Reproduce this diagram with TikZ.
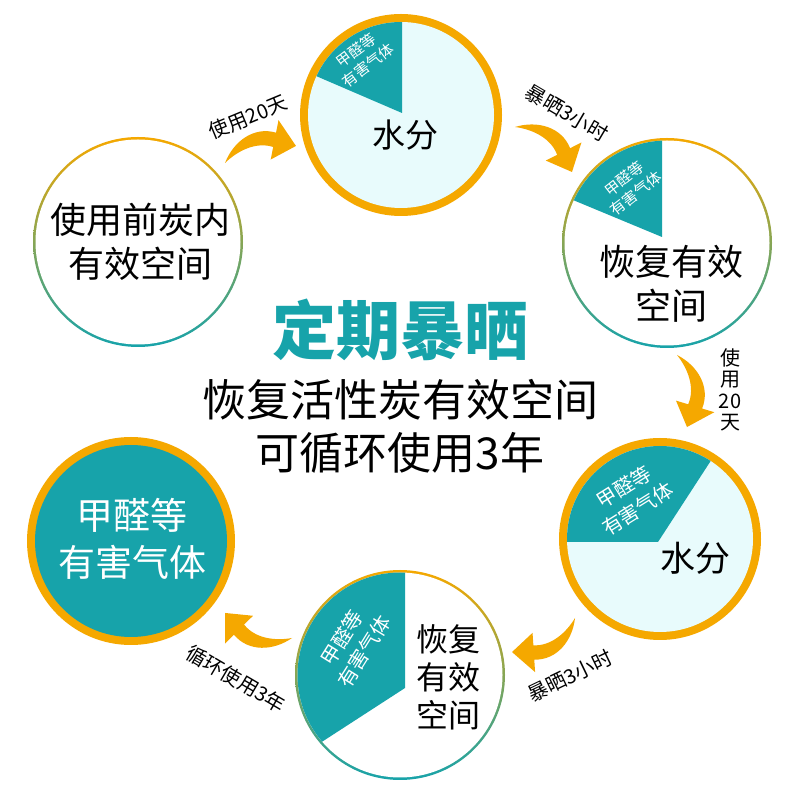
\documentclass[tikz,border=0pt]{standalone}
\usepackage{fontspec}
\newfontfamily\cjk{Noto Sans CJK SC}
\definecolor{ora}{HTML}{F5A800}
\definecolor{tealc}{HTML}{17A3AA}
\definecolor{lcyan}{HTML}{E8FBFC}
\tikzset{
  every node/.style={inner sep=0pt, outer sep=0pt, align=center},
  bigtxt/.style={font={\cjk\fontsize{36}{44}\selectfont}},
  midtxt/.style={font={\cjk\fontsize{32}{38}\selectfont}},
  wedgesm/.style={text=white, font={\cjk\fontsize{15}{18.5}\selectfont}},
  wedgebg/.style={text=white, font={\cjk\fontsize{20}{26}\selectfont}},
  lbl/.style={font={\cjk\fontsize{20}{21.5}\selectfont}},
}
\newcommand\bentarrow[3]{%
  \fill[ora, shift={(#1)}, rotate=#2, scale=#3]
    (0,0) .. controls (0.18,0.26) and (0.5,0.40) .. (0.777,0.241)
    -- (0.85,0.40) -- (1,0) -- (0.62,-0.10) -- (0.693,0.059)
    .. controls (0.48,0.19) and (0.2,0.12) .. cycle;}
\begin{document}
\begin{tikzpicture}[x=1pt,y=1pt]
\useasboundingbox (0,0) rectangle (800,800);
\fill[white] (0,0) rectangle (800,800);

% circle 6: before use
\coordinate (c6) at (138,558);
\shade[top color=ora, bottom color=tealc] (c6) circle (105);
\fill[white] (c6) circle (102.5);
\node[bigtxt] (t6) at (140,558) {使用前炭内\\有效空间};

% circle 1: top (water)
\coordinate (c1) at (401,685);
\fill[ora] (c1) circle (101);
\fill[lcyan] (c1) circle (93);
\begin{scope}
  \clip (c1) circle (93);
  \fill[tealc] (402,687) -- (402,800) -- (273,800) -- (273,742.5) -- cycle;
\end{scope}
\node[wedgesm, rotate=37] (w1) at (362,742) {甲醛等\\有害气体};
\node[font={\cjk\fontsize{33}{40}\selectfont}] (t1) at (405,665) {水分};

% circle 2: right (restored)
\coordinate (c2) at (667,557);
\shade[top color=ora, bottom color=tealc] (c2) circle (105);
\fill[white] (c2) circle (102.5);
\begin{scope}
  \clip (c2) circle (102.5);
  \fill[tealc] (662,563) -- (662,700) -- (520,700) -- (520,622) -- cycle;
\end{scope}
\node[wedgesm, rotate=38] (w2) at (630,614) {甲醛等\\有害气体};
\node[bigtxt] (t2) at (671,516) {恢复有效\\空间};

% circle 3: right lower (water)
\coordinate (c3) at (660,261);
\fill[ora] (c3) circle (101);
\fill[lcyan] (c3) circle (93);
\begin{scope}
  \clip (c3) circle (93);
  \fill[tealc] (658,258) -- (736,378) -- (540,378) -- (540,258) -- cycle;
\end{scope}
\node[wedgebg, rotate=32] (w3) at (631,302) {甲醛等\\有害气体};
\node[font={\cjk\fontsize{35}{40}\selectfont}] (t3) at (695,242) {水分};

% circle 4: bottom (restored)
\coordinate (c4) at (400,125);
\shade[top color=ora, bottom color=tealc] (c4) circle (105);
\fill[white] (c4) circle (102.5);
\begin{scope}
  \clip (c4) circle (102.5);
  \fill[tealc] (405,112) -- (405,240) -- (280,240) -- (280,31) -- cycle;
\end{scope}
\node[wedgebg, rotate=58] (w4) at (353,155) {甲醛等\\有害气体};
\node[font={\cjk\fontsize{32}{38}\selectfont}] (t4) at (448,123) {恢复\\有效\\空间};

% circle 5: left lower (gas)
\coordinate (c5) at (131,259);
\fill[ora] (c5) circle (104);
\fill[tealc] (c5) circle (96);
\node[text=white, font={\cjk\fontsize{37}{47}\selectfont}] (t5) at (132,261) {甲醛等\\有害气体};

% centre text
\node[text=tealc, font={\cjk\bfseries\fontsize{64}{70}\selectfont}] (title) at (400,470) {定期暴晒};
\node[font={\cjk\fontsize{44}{53}\selectfont}] (sub) at (400,374) {恢复活性炭有效空间\\可循环使用3年};

% arrows
\coordinate (a1) at (225,637);
\coordinate (a2) at (515,673);
\coordinate (a3) at (677,445);
\coordinate (a4) at (575,182);
\coordinate (a5) at (292,162);
\bentarrow{a1}{13.5}{73}
\bentarrow{a2}{-38.3}{72.6}
\bentarrow{a3}{-82.1}{72.7}
\bentarrow{a4}{208.4}{71.6}
\bentarrow{a5}{159.5}{71.5}

% labels
\node[lbl, rotate=22.6] (l1) at (248,683) {使用20天};
\node[lbl, rotate=-30.5] (l2) at (567,687) {暴晒3小时};
\node[lbl] (l3) at (730,410) {使\\用\\20\\天};
\node[lbl, rotate=25.7] (l4) at (570,124) {暴晒3小时};
\node[lbl, rotate=-30.4] (l5) at (236,121) {循环使用3年};
\end{tikzpicture}
\end{document}
